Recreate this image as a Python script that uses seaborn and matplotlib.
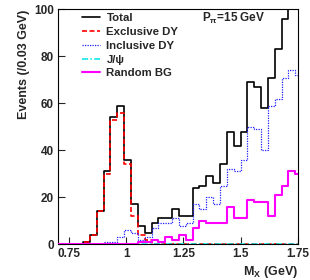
import numpy as np
import pandas as pd
import matplotlib
matplotlib.use("Agg")
import matplotlib.pyplot as plt
import seaborn as sns
from matplotlib.lines import Line2D

# ---- data (events per 0.03 GeV bin, bins start at 0.69 GeV) ----
bin_start = 0.69
bin_width = 0.03
n_bins = 36

total = [0, 0, 0, 0, 1, 4, 14, 31, 54, 59, 36, 17, 8, 5, 9, 11, 11, 15,
         12, 12, 24, 25, 29, 26, 34, 48, 42, 48, 69, 67, 58, 71, 83, 96,
         105, 102]
exclusive_dy = [0, 0, 0, 0, 1, 4, 14, 30, 53, 56, 34, 12, 4, 2, 0, 0, 0, 0,
                0, 0, 0, 0, 0, 0, 0, 0, 0, 0, 0, 0, 0, 0, 0, 0, 0, 0]
inclusive_dy = [0, 0, 0, 0, 0, 0, 0, 1, 1, 3, 6, 5, 2, 3, 7, 9, 9, 11,
                8, 9, 17, 15, 20, 17, 25, 32, 31, 36, 50, 49, 40, 59, 62, 71,
                74, 72]
jpsi = [0] * 36
random_bg = [0, 0, 0, 0, 0, 0, 0, 0, 0, 0, 0, 0, 1, 1, 2, 1, 3, 2,
             4, 2, 7, 10, 9, 9, 9, 16, 11, 11, 19, 18, 18, 12, 21, 25,
             31, 30]

series_names = ["Total", "Exclusive DY", "Inclusive DY", "J/\u03c8", "Random BG"]
series_values = [total, exclusive_dy, inclusive_dy, jpsi, random_bg]
colors = ["black", "#ff0000", "#2020ff", "#00e5e5", "#ff00ff"]
styles = ["-", (0, (3, 1.5)), (0, (1, 1)), (0, (4, 1.5, 1, 1.5)), "-"]
widths = [1.2, 1.2, 0.9, 1.1, 1.5]

edges = [round(bin_start + bin_width * k, 4) for k in range(n_bins + 1)]
centers = [(a + b) / 2 for a, b in zip(edges[:-1], edges[1:])]

rows = []
for name, vals in zip(series_names, series_values):
    for c, v in zip(centers, vals):
        rows.append({"series": name, "mass": c, "events": v})
df = pd.DataFrame(rows)

sns.set_style("ticks")
plt.rcParams["font.family"] = ["Liberation Sans", "DejaVu Sans"]
plt.rcParams["mathtext.fontset"] = "custom"
plt.rcParams["mathtext.rm"] = "Liberation Sans:bold"
plt.rcParams["mathtext.it"] = "Liberation Sans:bold"
plt.rcParams["mathtext.bf"] = "Liberation Sans:bold"

fig = plt.figure(figsize=(3.1, 2.8), dpi=100)
ax = fig.add_axes([0.187, 0.1275, 0.773, 0.839])

handles = []
for name, col, ls, lw in zip(series_names, colors, styles, widths):
    sub = df[df["series"] == name]
    sns.histplot(data=sub, x="mass", weights="events", bins=edges,
                 element="step", fill=False, color=col, linestyle=ls,
                 linewidth=lw, zorder=3, ax=ax)
    handles.append(Line2D([], [], color=col, linestyle=ls, linewidth=lw))

ax.set_xlim(0.70, 1.75)
ax.set_ylim(0, 100)
ax.set_xticks([0.75, 1.0, 1.25, 1.5, 1.75])
ax.set_xticklabels(["0.75", "1", "1.25", "1.5", "1.75"])
ax.set_yticks([0, 20, 40, 60, 80, 100])
ax.tick_params(axis="both", direction="in", length=5, width=0.8,
               labelsize=8.5, pad=3, top=False, right=False)
for lab in ax.get_xticklabels() + ax.get_yticklabels():
    lab.set_fontweight("bold")
for sp in ax.spines.values():
    sp.set_visible(True)
    sp.set_linewidth(0.8)
    sp.set_color("black")

ax.set_ylabel("Events (/0.03 GeV)", fontsize=9, fontweight="bold", loc="top")
ax.yaxis.set_label_coords(-0.115, 1.0)
ax.set_xlabel("M$_{X}$ (GeV)", fontsize=9, fontweight="bold", loc="right")
ax.xaxis.set_label_coords(1.0, -0.083)

leg = ax.legend(handles, series_names, loc="upper left",
                bbox_to_anchor=(0.1, 0.983), frameon=False, fontsize=8.2,
                handlelength=1.6, handletextpad=0.55, labelspacing=0.33,
                borderpad=0.0, borderaxespad=0.0)
for t in leg.get_texts():
    t.set_fontweight("bold")

ax.text(0.6, 0.962, "P$_{\\pi}$=15 GeV", transform=ax.transAxes,
        fontsize=8.5, fontweight="bold", va="center", ha="left")

fig.savefig("out.png", dpi=100)
